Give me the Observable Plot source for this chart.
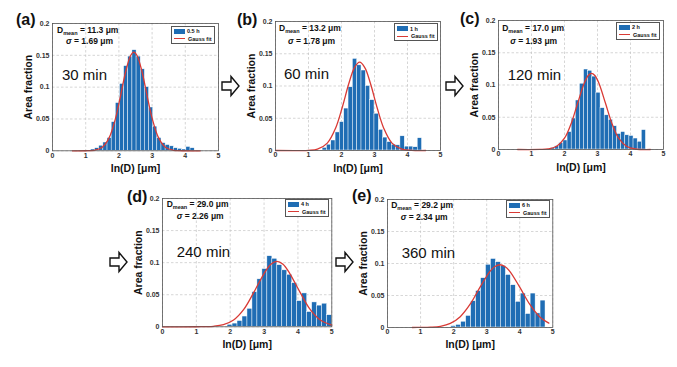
<!DOCTYPE html>
<html><head><meta charset="utf-8">
<script src="https://cdn.jsdelivr.net/npm/d3@7"></script>
<script src="https://cdn.jsdelivr.net/npm/@observablehq/plot@0.6"></script>
<style>
body{margin:0;background:#fff;}
#fig{position:relative;width:677px;height:367px;background:#fff;overflow:hidden;font-family:"Liberation Sans",Arial,sans-serif;color:#111;}
.panel{position:absolute;}
.panel svg{display:block;overflow:visible;}
.plabel{position:absolute;font-weight:bold;font-size:16px;line-height:1;transform:translateY(-50%);}
.ann{position:absolute;font-weight:bold;font-size:8.5px;white-space:nowrap;line-height:1;transform:translateY(-50%);}
.ann sub{font-size:5.5px;vertical-align:-2px;}
.time{position:absolute;font-size:15px;white-space:nowrap;line-height:1;transform:translateY(-50%);}
.legend{position:absolute;border:0.8px solid #555;background:#fff;box-sizing:border-box;width:44px;height:18px;font-weight:bold;font-size:5.5px;}
.lrow{position:absolute;left:2px;display:flex;align-items:center;height:7px;white-space:nowrap;}
.patch{width:11px;height:5px;background:#1f6db4;margin-right:2px;}
.rline{width:11px;height:0;border-top:1.2px solid #d93a35;margin-right:3px;}
</style></head>
<body><div id="fig"></div>
<script>
// ---- data ----
const xTicks = [0, 1, 2, 3, 4, 5];
const yTicks = [0, 0.05, 0.1, 0.15, 0.2];
const panelLabels = ["(a)", "(b)", "(c)", "(d)", "(e)"];
const timeLabels = ["30 min", "60 min", "120 min", "240 min", "360 min"];
const legendLabels = ["0.5 h", "1 h", "2 h", "4 h", "6 h"];
const fitLabel = "Gauss fit";
const dMean = ["11.3", "13.2", "17.0", "29.0", "29.2"];
const sigma = ["1.69", "1.78", "1.93", "2.26", "2.34"];

// histogram bins: first bin centre and bin width (ln(D))
const binFirst = [1.22, 1.493, 1.655, 1.995, 2.005];
const binWidth = [0.125, 0.131, 0.125, 0.147, 0.15];

const barsA = [0.002, 0.004, 0.008, 0.013, 0.02, 0.045, 0.075, 0.105, 0.133, 0.148, 0.158, 0.148, 0.128, 0.1, 0.068, 0.038, 0.02, 0.012, 0.009, 0.007, 0.004, 0.003, 0.002, 0.006, 0.004];
const barsB = [0.004, 0.009, 0.0155, 0.028, 0.044, 0.065, 0.098, 0.142, 0.132, 0.124, 0.1, 0.078, 0.057, 0.032, 0.02, 0.013, 0.009, 0.008, 0.022, 0.006, 0.006, 0.005, 0.019];
const barsC = [0.002, 0.005, 0.01, 0.014, 0.027, 0.048, 0.076, 0.102, 0.124, 0.122, 0.113, 0.088, 0.064, 0.053, 0.046, 0.036, 0.024, 0.027, 0.022, 0.021, 0.017, 0.012, 0.03];
const barsD = [0.003, 0.005, 0.009, 0.016, 0.028, 0.054, 0.074, 0.09, 0.11, 0.106, 0.096, 0.088, 0.081, 0.068, 0.04, 0.052, 0.023, 0.038, 0.033, 0.036, 0.018];
const barsE = [0.002, 0.004, 0.009, 0.018, 0.041, 0.057, 0.077, 0.098, 0.107, 0.102, 0.096, 0.082, 0.066, 0.04, 0.053, 0.021, 0.053, 0.022, 0.042];

// Gauss fit curves
const fitAx = [0.6, 1.0, 1.25, 1.5, 1.7, 1.9, 2.05, 2.2, 2.35, 2.45, 2.55, 2.7, 2.85, 3.0, 3.2, 3.4, 3.65, 3.9, 4.45];
const fitAy = [0, 0.0001, 0.0008, 0.0057, 0.0199, 0.0513, 0.0864, 0.1234, 0.1494, 0.155, 0.1494, 0.1234, 0.0864, 0.0513, 0.0199, 0.0057, 0.0008, 0.0001, 0];
const fitBx = [0, 1.0, 1.27, 1.57, 1.82, 2.02, 2.22, 2.39, 2.55, 2.71, 2.88, 3.08, 3.28, 3.53, 3.83, 4.13, 4.55];
const fitBy = [0, 0.0002, 0.002, 0.0115, 0.0346, 0.0663, 0.1034, 0.1282, 0.137, 0.1282, 0.1034, 0.0663, 0.0346, 0.0115, 0.002, 0.0002, 0];
const fitCx = [0.58, 1.25, 1.5, 1.75, 2.0, 2.2, 2.4, 2.6, 2.72, 2.82, 2.92, 3.04, 3.24, 3.44, 3.64, 3.89, 4.14, 4.6];
const fitCy = [0, 0.0001, 0.0008, 0.0046, 0.0175, 0.04, 0.072, 0.103, 0.1147, 0.118, 0.1147, 0.103, 0.072, 0.04, 0.0175, 0.0046, 0.0008, 0];
const fitDx = [0, 1.0, 1.5, 1.8, 2.1, 2.4, 2.7, 3.0, 3.2, 3.38, 3.56, 3.76, 4.06, 4.36, 4.66, 5.0];
const fitDy = [0, 0.00004, 0.0008, 0.0032, 0.0105, 0.027, 0.054, 0.083, 0.0975, 0.102, 0.0975, 0.083, 0.054, 0.027, 0.0105, 0.0027];
const fitEx = [0.75, 1.0, 1.3, 1.6, 1.9, 2.2, 2.5, 2.8, 3.1, 3.25, 3.4, 3.55, 3.7, 4.0, 4.3, 4.6, 4.88];
const fitEy = [0, 0.0001, 0.0005, 0.0019, 0.0063, 0.0169, 0.0364, 0.063, 0.0878, 0.0953, 0.098, 0.0953, 0.0878, 0.063, 0.0364, 0.0169, 0.0068];

const allBars = [barsA, barsB, barsC, barsD, barsE];
const allFitX = [fitAx, fitBx, fitCx, fitDx, fitEx];
const allFitY = [fitAy, fitBy, fitCy, fitDy, fitEy];

// ---- layout ----
const frames = [[52, 22.7, 218, 150], [275, 21, 440, 150], [497.7, 20, 662.7, 149], [161.7, 197.7, 331, 326], [386.7, 198.7, 552, 326.7]];
const labelPos = [[16, 20], [237, 20], [460, 19], [127, 197], [352, 196]];
const annOff = [[5, 8.3, 14, 18.5, 10, 51, 3, 3], [4, 8, 13, 19.5, 9, 52, 2, 2], [4.5, 9, 12.5, 20.5, 10, 54, 2.7, 1.7], [5, 7.3, 15, 18, 15, 53, 2, 1.3], [4.5, 7, 14, 18, 15, 53, 2, 1.3]];
const mL = 46, mR = 8, mT = 8, mB = 36;

const fig = document.getElementById("fig");

allBars.forEach((vals, i) => {
  const [fx0, fy0, fx1, fy1] = frames[i];
  const fw = fx1 - fx0, fh = fy1 - fy0;
  const bars = vals.map((v, k) => {
    const c = binFirst[i] + k * binWidth[i];
    return {x1: c - binWidth[i] / 2, x2: c + binWidth[i] / 2, v};
  });
  const curve = allFitX[i].map((x, k) => ({x, y: allFitY[i][k]}));
  const chart = Plot.plot({
    width: fw + mL + mR, height: fh + mT + mB,
    marginLeft: mL, marginRight: mR, marginTop: mT, marginBottom: mB,
    x: {domain: [0, 5]}, y: {domain: [0, 0.2]},
    style: {fontFamily: "Liberation Sans, Arial, sans-serif", fontSize: "7px", fontWeight: "bold", color: "#333", background: "transparent", overflow: "visible"},
    marks: [
      Plot.gridX(xTicks, {stroke: "#c4c4c4", strokeOpacity: 1, strokeDasharray: "2.5,2", strokeWidth: 0.7}),
      Plot.gridY(yTicks, {stroke: "#c4c4c4", strokeOpacity: 1, strokeDasharray: "2.5,2", strokeWidth: 0.7}),
      Plot.rectY(bars, {x1: "x1", x2: "x2", y: "v", inset: 0, fill: "#1f6db4", stroke: "#ffffff", strokeWidth: 0.45}),
      Plot.line(curve, {x: "x", y: "y", stroke: "#d93a35", strokeWidth: 1.3, curve: "catmull-rom"}),
      Plot.frame({stroke: "#555", strokeWidth: 0.8}),
      Plot.axisX(xTicks, {tickSize: 0, tickPadding: 2, label: null}),
      Plot.axisY(yTicks, {tickSize: 0, tickPadding: 3, tickFormat: d => String(d), label: null}),
      Plot.text(["Area fraction"], {text: d => d, frameAnchor: "left", textAnchor: "middle", rotate: -90, dx: -24, fontSize: 10.5, fontWeight: "bold", fill: "#111"}),
      Plot.text(["ln(D) [μm]"], {text: d => d, frameAnchor: "bottom", dy: 21, fontSize: 10.5, fontWeight: "bold", fill: "#111"})
    ]
  });
  const div = document.createElement("div");
  div.className = "panel";
  div.style.left = (fx0 - mL) + "px";
  div.style.top = (fy0 - mT) + "px";
  div.appendChild(chart);
  const o = annOff[i];
  const a1 = document.createElement("div");
  a1.className = "ann"; a1.style.left = (mL + o[0]) + "px"; a1.style.top = (mT + o[1]) + "px";
  a1.innerHTML = "D<sub>mean</sub> = " + dMean[i] + " μm";
  const a2 = document.createElement("div");
  a2.className = "ann"; a2.style.left = (mL + o[2]) + "px"; a2.style.top = (mT + o[3]) + "px";
  a2.innerHTML = "<i>σ</i> = " + sigma[i] + " μm";
  const t = document.createElement("div");
  t.className = "time"; t.style.left = (mL + o[4]) + "px"; t.style.top = (mT + o[5]) + "px";
  t.textContent = timeLabels[i];
  const lg = document.createElement("div");
  lg.className = "legend";
  lg.style.left = (mL + fw - o[6] - 44) + "px"; lg.style.top = (mT + o[7]) + "px";
  lg.innerHTML = '<div class="lrow" style="top:1px"><div class="patch"></div><span>' + legendLabels[i] + '</span></div>' +
                 '<div class="lrow" style="top:8.5px"><div class="rline"></div><span>' + fitLabel + '</span></div>';
  div.append(a1, a2, t, lg);
  fig.appendChild(div);
  const pl = document.createElement("div");
  pl.className = "plabel";
  pl.style.left = labelPos[i][0] + "px"; pl.style.top = labelPos[i][1] + "px";
  pl.textContent = panelLabels[i];
  fig.appendChild(pl);
});

// arrows between panels
const arrowPos = [[222, 86], [446, 86], [110, 262], [336, 262]];
const ns = "http://www.w3.org/2000/svg";
const asvg = document.createElementNS(ns, "svg");
asvg.setAttribute("width", 677); asvg.setAttribute("height", 367);
asvg.style.position = "absolute"; asvg.style.left = "0"; asvg.style.top = "0"; asvg.style.pointerEvents = "none";
arrowPos.forEach(([x, y]) => {
  const p = document.createElementNS(ns, "polygon");
  const pts = [[0, -4], [9, -4], [9, -9.5], [17, 0], [9, 9.5], [9, 4], [0, 4]];
  p.setAttribute("points", pts.map(([dx, dy]) => (x + dx) + "," + (y + dy)).join(" "));
  p.setAttribute("fill", "#fff"); p.setAttribute("stroke", "#111"); p.setAttribute("stroke-width", "1.4");
  p.setAttribute("stroke-linejoin", "miter");
  asvg.appendChild(p);
});
fig.appendChild(asvg);
</script></body></html>
